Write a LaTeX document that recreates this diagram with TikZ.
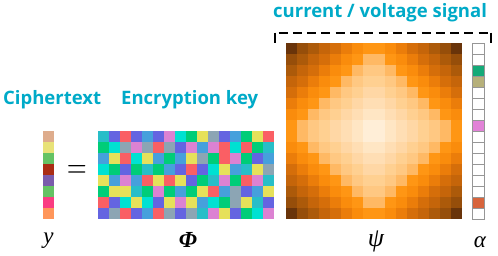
\documentclass[tikz,border=0pt]{standalone}
\usepackage{fontspec}
\newfontfamily\headfont{Open Sans}
\newfontfamily\symfont{Liberation Serif}
\definecolor{hd}{RGB}{0,170,200}
% Phi palette
\definecolor{phT}{RGB}{40,190,200}
\definecolor{phB}{RGB}{100,100,225}
\definecolor{phR}{RGB}{250,95,100}
\definecolor{phL}{RGB}{70,160,220}
\definecolor{phP}{RGB}{220,130,210}
\definecolor{phC}{RGB}{0,225,210}
\definecolor{phG}{RGB}{0,205,120}
\definecolor{phY}{RGB}{230,225,90}
\definecolor{phS}{RGB}{140,165,180}
% y palette
\definecolor{y0}{RGB}{222,172,140}
\definecolor{y1}{RGB}{232,226,120}
\definecolor{y2}{RGB}{100,195,100}
\definecolor{y3}{RGB}{170,45,20}
\definecolor{y4}{RGB}{122,92,172}
\definecolor{y5}{RGB}{100,195,100}
\definecolor{y6}{RGB}{250,60,130}
\definecolor{y7}{RGB}{255,150,90}
% psi levels by L1 distance from centre
\definecolor{ps1}{RGB}{255,238,215}
\definecolor{ps2}{RGB}{255,230,196}
\definecolor{ps3}{RGB}{255,222,180}
\definecolor{ps4}{RGB}{255,215,165}
\definecolor{ps5}{RGB}{255,208,145}
\definecolor{ps6}{RGB}{255,200,130}
\definecolor{ps7}{RGB}{255,185,100}
\definecolor{ps8}{RGB}{255,150,20}
\definecolor{ps9}{RGB}{250,140,12}
\definecolor{ps10}{RGB}{235,125,10}
\definecolor{ps11}{RGB}{213,110,10}
\definecolor{ps12}{RGB}{197,101,10}
\definecolor{ps13}{RGB}{172,90,10}
\definecolor{ps14}{RGB}{150,78,10}
\definecolor{ps15}{RGB}{105,52,10}
% alpha
\definecolor{aG}{RGB}{20,170,120}
\definecolor{aK}{RGB}{182,176,122}
\definecolor{aP}{RGB}{225,130,215}
\definecolor{aR}{RGB}{215,100,60}
\definecolor{agrid}{RGB}{150,150,150}
\tikzset{
  head/.style={font=\headfont\bfseries\fontsize{18.5}{20}\selectfont, text=hd, inner sep=0pt},
  sym/.style={font=\symfont\itshape\fontsize{23}{25}\selectfont, inner sep=0pt},
  acell/.style={draw=agrid, line width=0.7pt},
  bracket/.style={line width=2pt, black},
}
\begin{document}
\begin{tikzpicture}[x=1pt,y=-1pt]
\useasboundingbox (0,0) rectangle (498,255);
% titles
\node[head, anchor=base west] (ct) at (3,104) {Ciphertext};
\node[head, anchor=base west] (ek) at (121,104) {Encryption key};
\node[head, anchor=base west] (cv) at (273,17) {current / voltage signal};
% y column
\foreach \k in {0,...,7} {
  \fill[y\k] (43,131+11*\k) rectangle +(11,11.2);
}
% equals
\node[inner sep=0pt] (eq) at (77,171.5) {\resizebox{20pt}{12pt}{$=$}};
% Phi grid
\foreach \row [count=\j from 0] in {
 {T,B,R,B,L,B,P,C,G,Y,S,B,L,G,Y,R},
 {G,C,S,P,S,R,S,B,P,L,P,R,C,R,G,T},
 {L,Y,R,C,Y,L,G,L,Y,S,G,R,P,G,B,L},
 {C,G,B,G,T,G,L,B,R,B,C,Y,L,T,Y,S},
 {Y,L,P,L,R,Y,R,Y,B,G,T,P,G,R,P,T},
 {G,Y,Y,T,G,P,G,L,G,Y,R,L,S,B,L,Y},
 {R,B,C,Y,C,B,Y,P,Y,L,C,G,S,Y,T,B},
 {B,S,R,B,L,R,S,B,S,T,P,Y,B,G,C,P}} {
  \foreach \c [count=\i from 0] in \row {
    \fill[ph\c] (98+11*\i,131+11*\j) rectangle +(11.2,11.2);
  }
}
% psi grid
\foreach \i in {0,...,15} {
  \foreach \j in {0,...,15} {
    \pgfmathtruncatemacro\s{abs(\i-7.5)+abs(\j-7.5)+0.01}
    \fill[ps\s] (285.5+11*\i,43+11*\j) rectangle +(11.2,11.2);
  }
}
% alpha column
\foreach \k in {0,...,15} {
  \draw[acell, fill=white] (472.5,43+11*\k) rectangle +(11.5,11);
}
\draw[acell, fill=aG] (472.5,43+11*2) rectangle +(11.5,11);
\draw[acell, fill=aK] (472.5,43+11*3) rectangle +(11.5,11);
\draw[acell, fill=aP] (472.5,43+11*7) rectangle +(11.5,11);
\draw[acell, fill=aR] (472.5,43+11*14) rectangle +(11.5,11);
% dashed bracket
\coordinate (bl) at (274.5,32.5);
\coordinate (br) at (490.5,32.5);
\coordinate (blt) at (274.5,43);
\coordinate (brt) at (490.5,43);
\foreach \k in {0,...,14} {
  \draw[bracket] ([xshift=4+14.3*\k pt]bl) -- +(9,0);
}
\draw[bracket] (bl) -- (blt);
\draw[bracket] (br) -- (brt);
% labels
\node[sym, anchor=base] (ly) at (48.5,243) {y};
\node[sym, anchor=base] (lphi) at (188,247) {\bfseries Φ};
\node[sym, anchor=base, font=\symfont\itshape\fontsize{26}{28}\selectfont] (lpsi) at (376,246) {ψ};
\node[sym, anchor=base] (lal) at (480,247) {α};
\end{tikzpicture}
\end{document}
